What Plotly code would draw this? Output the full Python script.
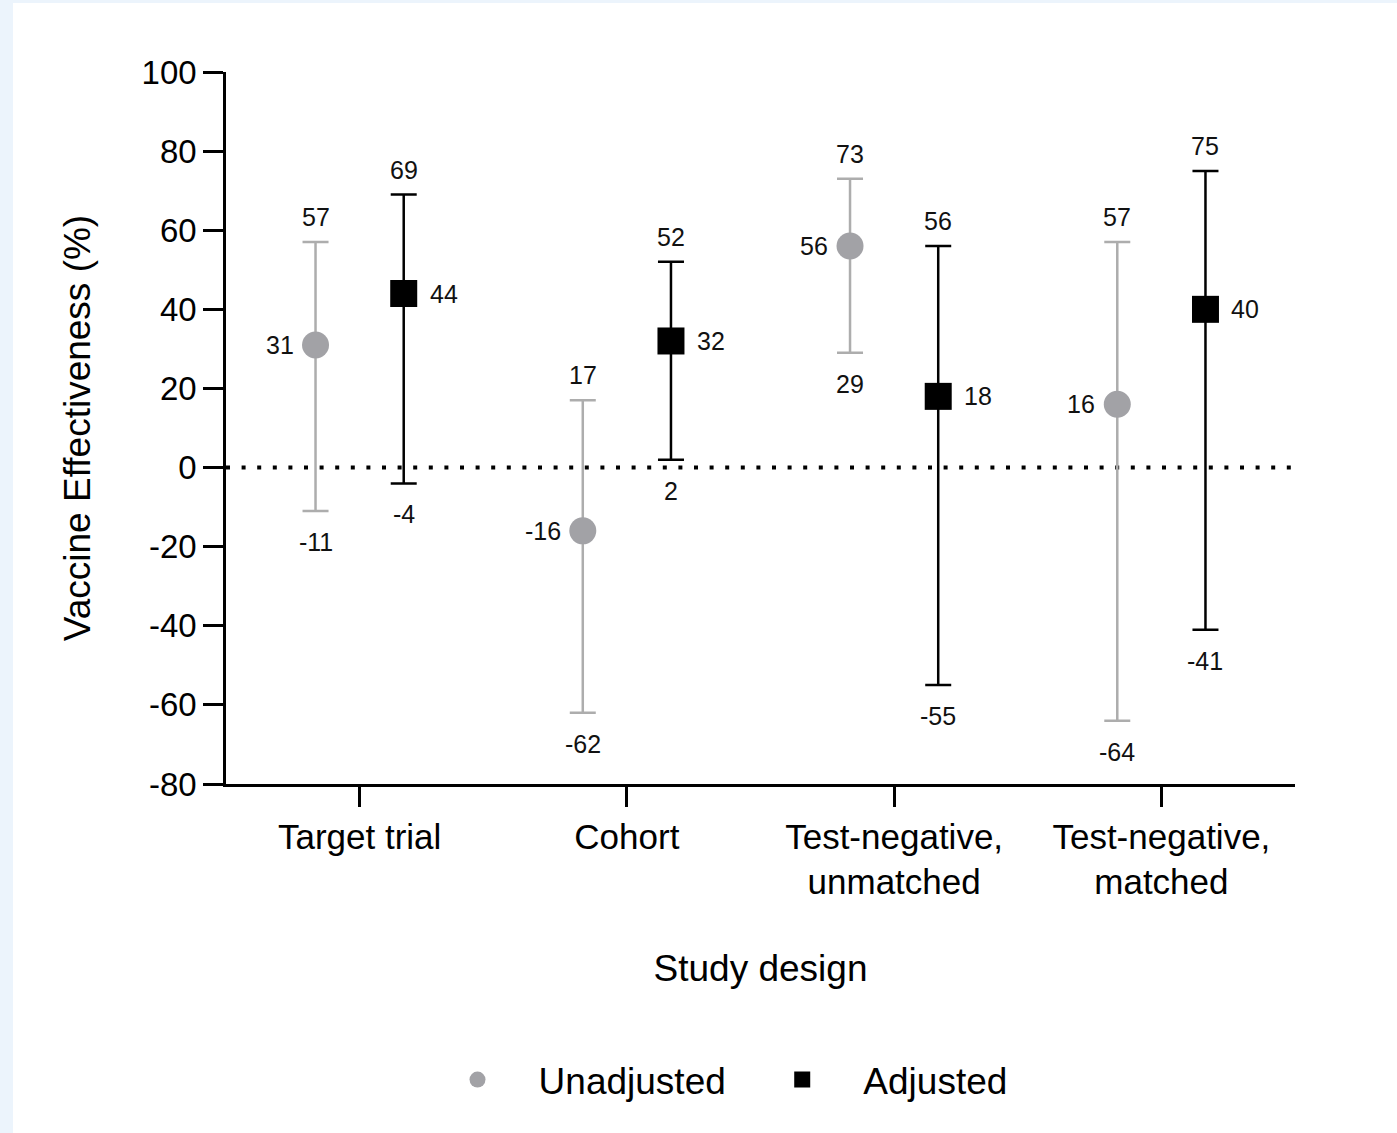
import plotly.graph_objects as go

categories = ["Target trial", "Cohort", "Test-negative,<br>unmatched", "Test-negative,<br>matched"]
unadj_pt = [31, -16, 56, 16]
unadj_lo = [-11, -62, 29, -64]
unadj_hi = [57, 17, 73, 57]
adj_pt = [44, 32, 18, 40]
adj_lo = [-4, 2, -55, -41]
adj_hi = [69, 52, 56, 75]
y_ticks = [-80, -60, -40, -20, 0, 20, 40, 60, 80, 100]

FONT = "Arial, Liberation Sans, Helvetica, sans-serif"
GRAY = "#A2A2A6"
GRAY_BAR = "#ADADAD"
OFF = 0.165
NB = "\u00a0"

W, H = 1397, 1133
L, R, T, B = 226, 102, 72, 349
PW, PH = W - L - R, H - T - B

x_idx = list(range(len(categories)))
xu = [i - OFF for i in x_idx]
xa = [i + OFF for i in x_idx]

fig = go.Figure()
fig.add_trace(go.Scatter(
    x=xu, y=unadj_pt, mode="markers", name=NB * 4 + "Unadjusted" + NB * 5,
    marker=dict(symbol="circle", size=27, color=GRAY, line=dict(width=0)),
    error_y=dict(type="data", symmetric=False,
                 array=[h - p for h, p in zip(unadj_hi, unadj_pt)],
                 arrayminus=[p - l for l, p in zip(unadj_lo, unadj_pt)],
                 color=GRAY_BAR, thickness=2.5, width=13),
))
fig.add_trace(go.Scatter(
    x=xa, y=adj_pt, mode="markers", name=NB * 4 + "Adjusted",
    marker=dict(symbol="square", size=27, color="black", line=dict(width=0)),
    error_y=dict(type="data", symmetric=False,
                 array=[h - p for h, p in zip(adj_hi, adj_pt)],
                 arrayminus=[p - l for l, p in zip(adj_lo, adj_pt)],
                 color="black", thickness=2.5, width=13),
))

ann = []
lab_font = dict(family=FONT, size=25, color="#111111")
for xs, pts, los, his, side in [(xu, unadj_pt, unadj_lo, unadj_hi, "left"),
                                (xa, adj_pt, adj_lo, adj_hi, "right")]:
    for x, p, lo, hi in zip(xs, pts, los, his):
        ann.append(dict(x=x, y=hi, text=str(hi), showarrow=False, yshift=25,
                        xanchor="center", yanchor="middle", font=lab_font))
        ann.append(dict(x=x, y=lo, text=str(lo), showarrow=False, yshift=-31,
                        xanchor="center", yanchor="middle", font=lab_font))
        if side == "left":
            ann.append(dict(x=x, y=p, text=str(p), showarrow=False, xshift=-20,
                            xanchor="right", yanchor="middle", font=lab_font))
        else:
            ann.append(dict(x=x, y=p, text=str(p), showarrow=False, xshift=24,
                            xanchor="left", yanchor="middle", font=lab_font))

shapes = [
    dict(type="rect", xref="paper", yref="paper",
         x0=(13 - L) / PW, x1=(W - L) / PW,
         y0=(T + PH - H) / PH, y1=(T + PH - 3) / PH,
         fillcolor="white", line=dict(width=0), layer="below"),
    dict(type="line", xref="paper", yref="y", x0=0, x1=1, y0=0, y1=0,
         line=dict(color="black", width=4, dash="4px,11.6px"), layer="below"),
]

fig.update_layout(
    width=W, height=H,
    margin=dict(l=L, r=R, t=T, b=B, autoexpand=False),
    paper_bgcolor="#ECF4FC", plot_bgcolor="rgba(0,0,0,0)",
    font=dict(family=FONT, color="black"),
    showlegend=True,
    legend=dict(orientation="h", x=(735 - L) / PW, xanchor="center",
                y=(T + PH - 1080) / PH, yanchor="middle",
                font=dict(family=FONT, size=37, color="black"),
                bgcolor="rgba(0,0,0,0)"),
    annotations=ann,
    shapes=shapes,
    xaxis=dict(range=[-0.5, 3.5], tickvals=x_idx, ticktext=categories,
               showline=True, linecolor="black", linewidth=2.5,
               ticks="outside", ticklen=20, tickwidth=2.5, tickcolor="black",
               showgrid=False, zeroline=False,
               tickfont=dict(family=FONT, size=35, color="black"),
               title=dict(text="Study design", standoff=55,
                          font=dict(family=FONT, size=37, color="black"))),
    yaxis=dict(range=[-80, 100], tickvals=y_ticks, ticktext=[str(v) for v in y_ticks],
               showline=True, linecolor="black", linewidth=2.5,
               ticks="outside", ticklen=20, tickwidth=2.5, tickcolor="black",
               showgrid=False, zeroline=False,
               tickfont=dict(family=FONT, size=33, color="black"),
               title=dict(text="Vaccine Effectiveness (%)", standoff=40,
                          font=dict(family=FONT, size=37, color="black"))),
)

fig.write_html("out.html", config={"displayModeBar": False},
               post_script="document.body.style.margin='0';document.body.style.overflow='hidden';")
